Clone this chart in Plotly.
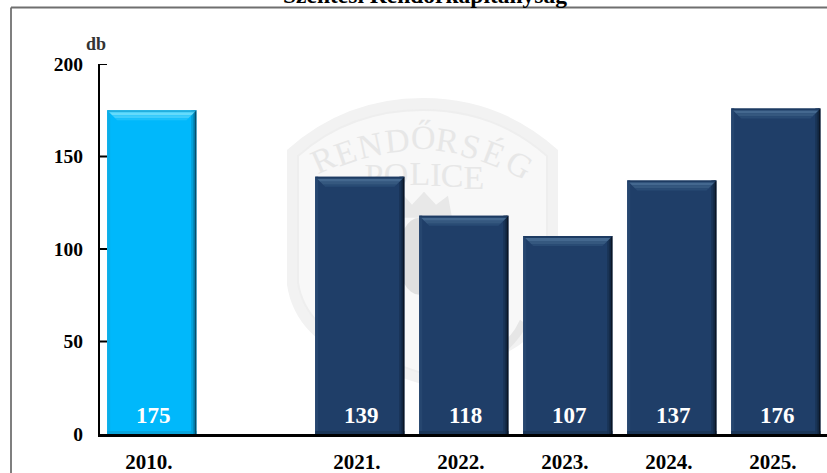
import plotly.graph_objects as go

categories = ["2010.", "", "2021.", "2022.", "2023.", "2024.", "2025."]
values = [175, None, 139, 118, 107, 137, 176]
y_ticks = [0, 50, 100, 150, 200]
title_text = "Szentesi Rendőrkapitányság"
unit_text = "db"
FONT = "Liberation Serif"

PAL_CYAN = dict(main="#00B8FB", top=["#22AEDD", "#66DBFB", "#40CDFB", "#1CC1FB"],
                right=["#064F6E", "#047CA8", "#02A0D8"], left="#0AAEE8", bottom="#08A4DC")
PAL_NAVY = dict(main="#1F3E68", top=["#1D3B62", "#44688F", "#35587F", "#294B74"],
                right=["#0B1626", "#122742", "#193355"], left="#26466F", bottom="#1B3759")

BAR_W = 0.858
PLOT_TOP = 64
PLOT_BOTTOM = 434.5
PX_X = 1 / 104
PX_Y = 200 / (PLOT_BOTTOM - PLOT_TOP)

xs = list(range(len(categories)))
fig = go.Figure()

wm = "#E7E7E7"
fig.add_trace(go.Scatter(
    x=[374, 396, 420, 436, 452, 474], y=[179, 178, 177, 178, 179, 181],
    mode="text", text=list("POLICE"), textfont=dict(family=FONT, size=34, color=wm),
    hoverinfo="skip", showlegend=False, xaxis="x", yaxis="y"))

fig.add_trace(go.Bar(
    x=xs, y=values, width=BAR_W, xaxis="x2", yaxis="y2", showlegend=False,
    marker=dict(color=[PAL_CYAN["main"] if i == 0 else PAL_NAVY["main"] for i in xs], line=dict(width=0)),
    hoverinfo="x+y"))

shield = "M 287 150 Q 345 98 423 98 Q 500 98 558 150 L 558 285 Q 550 340 480 365 Q 440 378 423 385 Q 400 378 365 365 Q 295 340 287 285 Z"
inner = "M 298 156 Q 350 110 423 110 Q 495 110 547 156 L 547 283 Q 540 330 475 355 Q 440 368 423 374 Q 405 368 370 355 Q 305 330 298 283 Z"
H = PLOT_BOTTOM - PLOT_TOP
shapes = [
    dict(type="path", path=shield, xref="x", yref="y", fillcolor="#F2F2F2", line=dict(width=0), layer="below"),
    dict(type="path", path=inner, xref="x", yref="y", fillcolor="#F8F8F8", line=dict(color="#EEEEEE", width=2), layer="below"),
    dict(type="path", path="M 404 218 L 404 196 L 412 205 L 424 192 L 436 205 L 448 196 L 452 218 Z", xref="x", yref="y",
         fillcolor="#E8E8E8", line=dict(width=0), layer="below"),
    dict(type="circle", x0=398, x1=440, y0=218, y1=295, xref="x", yref="y", fillcolor="#E0E0E0", line=dict(width=0), layer="below"),
    dict(type="path", path="M 500 358 Q 520 340 527 325 L 520 320 Q 512 338 494 352 Z", xref="x", yref="y",
         fillcolor="#E6E6E6", line=dict(width=0), layer="below"),
    dict(type="line", xref="paper", yref="paper", x0=(11 - 100) / 727, x1=(11 - 100) / 727,
         y0=(PLOT_BOTTOM - 480) / H, y1=(PLOT_BOTTOM - 7.5) / H, line=dict(color="#7F7F7F", width=2)),
    dict(type="line", xref="paper", yref="paper", x0=(11 - 100) / 727, x1=1.01,
         y0=(PLOT_BOTTOM - 7.5) / H, y1=(PLOT_BOTTOM - 7.5) / H, line=dict(color="#6F6F6F", width=2)),
]
for t in y_ticks[1:]:
    shapes.append(dict(type="line", xref="paper", yref="y2", x0=0, x1=7 / 727, y0=t, y1=t,
                       line=dict(color="#000000", width=2)))


def poly(points, color):
    p = "M " + " L ".join(f"{a:.3f} {b:.3f}" for a, b in points) + " Z"
    return dict(type="path", path=p, xref="x2", yref="y2", fillcolor=color, line=dict(width=0))


annotations = []
for i, v in zip(xs, values):
    if v is None:
        continue
    pal = PAL_CYAN if i == 0 else PAL_NAVY
    l, r = i - BAR_W / 2, i + BAR_W / 2
    shapes.append(poly([(l, 0), (l, v), (l + 3 * PX_X, v), (l + 3 * PX_X, 0)], pal["left"]))
    shapes.append(poly([(l, 0), (r, 0), (r, 3 * PX_Y), (l, 3 * PX_Y)], pal["bottom"]))
    for k, col in enumerate(pal["right"]):
        shapes.append(poly([(r - (k + 1.5) * 1.5 * PX_X, 0), (r - k * 1.5 * PX_X, 0),
                            (r - k * 1.5 * PX_X, v), (r - (k + 1.5) * 1.5 * PX_X, v)], col))
    depth = [2, 5, 8, 10]
    prev = 0
    for d, col in zip(depth, pal["top"]):
        shapes.append(poly([(l + prev * PX_X, v - prev * PX_Y), (r - prev * PX_X, v - prev * PX_Y),
                            (r - d * PX_X, v - d * PX_Y), (l + d * PX_X, v - d * PX_Y)], col))
        prev = d
    annotations.append(dict(x=i, y=0, xref="x2", yref="y2", yanchor="middle", yshift=19, xshift=1.5, text=f"<b>{v}</b>",
                            showarrow=False, font=dict(family=FONT, size=23, color="#FFFFFF")))

arc_letters = list("RENDŐRSÉG")
arc_x = [323, 345, 370, 397, 423, 447, 470, 493, 519]
arc_y = [160, 153, 146, 141, 138, 141, 147, 154, 165]
arc_a = [-24, -19, -12, -6, 1, 8, 15, 21, 30]
for ch, ax, ay, ang in zip(arc_letters, arc_x, arc_y, arc_a):
    annotations.append(dict(x=ax, y=ay, xref="x", yref="y", text=ch, textangle=ang, showarrow=False,
                            font=dict(family=FONT, size=34, color=wm)))

annotations += [
    dict(xref="paper", yref="paper", x=(425 - 100) / 727, y=(PLOT_BOTTOM - 10) / H, yanchor="bottom", xanchor="center",
         text=f"<b>{title_text}</b>", showarrow=False, font=dict(family=FONT, size=23.5, color="#000000")),
    dict(xref="paper", yref="paper", x=(96 - 100) / 727, y=(PLOT_BOTTOM - 44) / H, yanchor="middle", xanchor="center",
         text=f"<b>{unit_text}</b>", showarrow=False, font=dict(family=FONT, size=18, color="#333333")),
]

fig.update_layout(
    width=827, height=473, autosize=False,
    margin=dict(l=100, r=0, t=PLOT_TOP, b=473 - PLOT_BOTTOM, pad=0, autoexpand=False),
    paper_bgcolor="#FFFFFF", plot_bgcolor="rgba(0,0,0,0)",
    barmode="overlay", showlegend=False,
    shapes=shapes, annotations=annotations,
    xaxis=dict(range=[100, 827], visible=False, fixedrange=True),
    yaxis=dict(range=[PLOT_BOTTOM, PLOT_TOP], visible=False, fixedrange=True),
    xaxis2=dict(overlaying="x", anchor="y2", range=[-0.498, 6.492], tickmode="array", tickvals=xs, ticktext=categories,
                showgrid=False, zeroline=False, showline=True, linecolor="#000000", linewidth=3, ticks="",
                ticklabelstandoff=7, ticklabelshift=-3, automargin=False,
                tickfont=dict(family=FONT, size=21, color="#000000", weight="bold")),
    yaxis2=dict(overlaying="y", anchor="x2", range=[0, 200], tickmode="array", tickvals=y_ticks,
                ticktext=[str(t) for t in y_ticks], showgrid=False, zeroline=False, automargin=False,
                showline=True, linecolor="#000000", linewidth=2, ticks="", ticklabelstandoff=11,
                tickfont=dict(family=FONT, size=19.5, color="#000000", weight="bold")),
)

fig.write_html("out.html", config={"displayModeBar": False},
               post_script="document.body.style.margin='0';document.body.style.overflow='hidden';")
